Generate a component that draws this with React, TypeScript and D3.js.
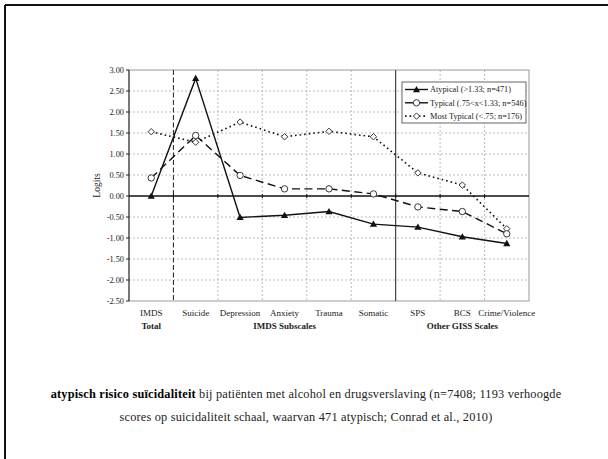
import React from "react";
import * as d3 from "d3";

const categories = ["IMDS", "Suicide", "Depression", "Anxiety", "Trauma", "Somatic", "SPS", "BCS", "Crime/Violence"];
const atypical = [0.0, 2.8, -0.51, -0.46, -0.37, -0.67, -0.74, -0.97, -1.13];
const typical = [0.43, 1.44, 0.49, 0.17, 0.17, 0.05, -0.26, -0.37, -0.9];
const mostTypical = [1.53, 1.28, 1.76, 1.41, 1.54, 1.41, 0.55, 0.26, -0.78];
const yTicks = [3, 2.5, 2, 1.5, 1, 0.5, 0, -0.5, -1, -1.5, -2, -2.5];
const legendLabels = ["Atypical (>1.33; n=471)", "Typical (.75<x<1.33; n=546)", "Most Typical (<.75; n=176)"];
const groups = [
  { label: "Total", from: 0, to: 0 },
  { label: "IMDS Subscales", from: 1, to: 5 },
  { label: "Other GISS Scales", from: 6, to: 8 },
];

const W = 608, H = 459;
const L = 129, R = 529, T = 70, B = 301;
const serif = "'Liberation Serif', 'Times New Roman', serif";

export default function App() {
  const x = d3.scaleBand<string>().domain(categories).range([L, R]);
  const bw = x.bandwidth();
  const cx = (i: number) => (x(categories[i]) as number) + bw / 2;
  const y = d3.scaleLinear().domain([-2.5, 3]).range([B, T]);
  const line = d3.line<number>().x((_, i) => cx(i)).y((v) => y(v));

  const boundaries = d3.range(1, categories.length).map((i) => x(categories[i]) as number);

  const tri = (px: number, py: number, s = 3.6) =>
    `M${px},${py - s}L${px + s},${py + s * 0.75}L${px - s},${py + s * 0.75}Z`;
  const dia = (px: number, py: number, s = 3.2) =>
    `M${px},${py - s}L${px + s},${py}L${px},${py + s}L${px - s},${py}Z`;

  const lx = 402, ly = 82, lw = 124, lh = 41;

  return (
    <svg width={W} height={H} style={{ position: "absolute", left: 0, top: 0, background: "#fff" }}>
      <rect x={0} y={0} width={W} height={H} fill="#fff" />
      {/* slide frame */}
      <line x1={5} y1={5} x2={W} y2={5} stroke="#111" strokeWidth={2} />
      <line x1={5} y1={5} x2={5} y2={H} stroke="#111" strokeWidth={2} />

      {/* horizontal grid */}
      {yTicks.filter((t) => t !== 0 && t !== 3 && t !== -2.5).map((t) => (
        <line key={"h" + t} x1={L} x2={R} y1={y(t)} y2={y(t)} stroke="#aaa" strokeWidth={0.8} strokeDasharray="2,2" />
      ))}
      {/* vertical grid */}
      {boundaries.map((bx, i) =>
        i === 0 || i === 5 ? null : (
          <line key={"v" + i} x1={bx} x2={bx} y1={T} y2={B} stroke="#aaa" strokeWidth={0.8} strokeDasharray="2,2" />
        )
      )}
      {/* plot frame */}
      <rect x={L} y={T} width={R - L} height={B - T} fill="none" stroke="#999" strokeWidth={1} />
      {/* separators */}
      <line x1={boundaries[0]} x2={boundaries[0]} y1={T} y2={B} stroke="#333" strokeWidth={1.1} strokeDasharray="5,2.5" />
      <line x1={boundaries[5]} x2={boundaries[5]} y1={T} y2={B} stroke="#333" strokeWidth={1.1} />
      {/* y axis */}
      <line x1={L} x2={L} y1={T} y2={B} stroke="#222" strokeWidth={1} />
      {yTicks.map((t) => (
        <g key={"t" + t}>
          <line x1={L - 3} x2={L} y1={y(t)} y2={y(t)} stroke="#222" strokeWidth={1} />
          <text x={L - 5} y={y(t) + 2.8} textAnchor="end" fontFamily={serif} fontSize={8.3} fill="#222">
            {t.toFixed(2)}
          </text>
        </g>
      ))}
      {/* zero axis */}
      <line x1={L} x2={R} y1={y(0)} y2={y(0)} stroke="#111" strokeWidth={1.4} />
      {boundaries.map((bx, i) => (
        <line key={"xt" + i} x1={bx} x2={bx} y1={y(0) - 2} y2={y(0) + 2} stroke="#111" strokeWidth={1} />
      ))}
      <text transform={`translate(${100},${(T + B) / 2}) rotate(-90)`} textAnchor="middle" fontFamily={serif} fontSize={9.5} fill="#222">
        Logits
      </text>

      {/* series */}
      <path d={line(mostTypical) || ""} fill="none" stroke="#111" strokeWidth={1.6} strokeDasharray="1.6,3" />
      <path d={line(typical) || ""} fill="none" stroke="#111" strokeWidth={1.4} strokeDasharray="8,4.5" />
      <path d={line(atypical) || ""} fill="none" stroke="#111" strokeWidth={1.4} />
      {mostTypical.map((v, i) => (
        <path key={"m" + i} d={dia(cx(i), y(v))} fill="#fff" stroke="#222" strokeWidth={0.9} />
      ))}
      {typical.map((v, i) => (
        <circle key={"c" + i} cx={cx(i)} cy={y(v)} r={3.2} fill="#fff" stroke="#222" strokeWidth={0.9} />
      ))}
      {atypical.map((v, i) => (
        <path key={"a" + i} d={tri(cx(i), y(v))} fill="#111" />
      ))}

      {/* category labels */}
      {categories.map((c, i) => (
        <text key={"cl" + c} x={cx(i)} y={316} textAnchor="middle" fontFamily={serif} fontSize={9} fill="#222">
          {c}
        </text>
      ))}
      {groups.map((g) => (
        <text key={"g" + g.label} x={(cx(g.from) + cx(g.to)) / 2} y={329} textAnchor="middle" fontFamily={serif} fontSize={9} fontWeight="bold" fill="#222">
          {g.label}
        </text>
      ))}

      {/* legend */}
      <rect x={lx} y={ly} width={lw} height={lh} fill="#fff" stroke="#555" strokeWidth={0.9} />
      {legendLabels.map((lab, i) => {
        const yy = ly + 7.5 + i * 13.3;
        const x0 = lx + 3, x1 = lx + 26, mx = (x0 + x1) / 2;
        return (
          <g key={"lg" + i}>
            {i === 0 && <line x1={x0} x2={x1} y1={yy} y2={yy} stroke="#111" strokeWidth={1.4} />}
            {i === 0 && <path d={tri(mx, yy)} fill="#111" />}
            {i === 1 && <line x1={x0} x2={x1} y1={yy} y2={yy} stroke="#111" strokeWidth={1.4} />}
            {i === 1 && <circle cx={mx} cy={yy} r={3.2} fill="#fff" stroke="#222" strokeWidth={0.9} />}
            {i === 2 && <line x1={x0} x2={x1} y1={yy} y2={yy} stroke="#111" strokeWidth={1.6} strokeDasharray="1.6,3" />}
            {i === 2 && <path d={dia(mx, yy)} fill="#fff" stroke="#222" strokeWidth={0.9} />}
            <text x={x1 + 2} y={yy + 2.8} fontFamily={serif} fontSize={8.3} fill="#222">
              {lab}
            </text>
          </g>
        );
      })}

      {/* caption */}
      <text x={306} y={398} textAnchor="middle" fontFamily={serif} fontSize={12.3} letterSpacing={0.2} fill="#222">
        <tspan fontWeight="bold" fill="#000">atypisch risico suïcidaliteit</tspan>
        <tspan> bij patiënten met alcohol en drugsverslaving (n=7408; 1193 verhoogde</tspan>
      </text>
      <text x={306} y={421} textAnchor="middle" fontFamily={serif} fontSize={12.3} letterSpacing={0.2} fill="#222">
        scores op suicidaliteit schaal, waarvan 471 atypisch; Conrad et al., 2010)
      </text>
    </svg>
  );
}
